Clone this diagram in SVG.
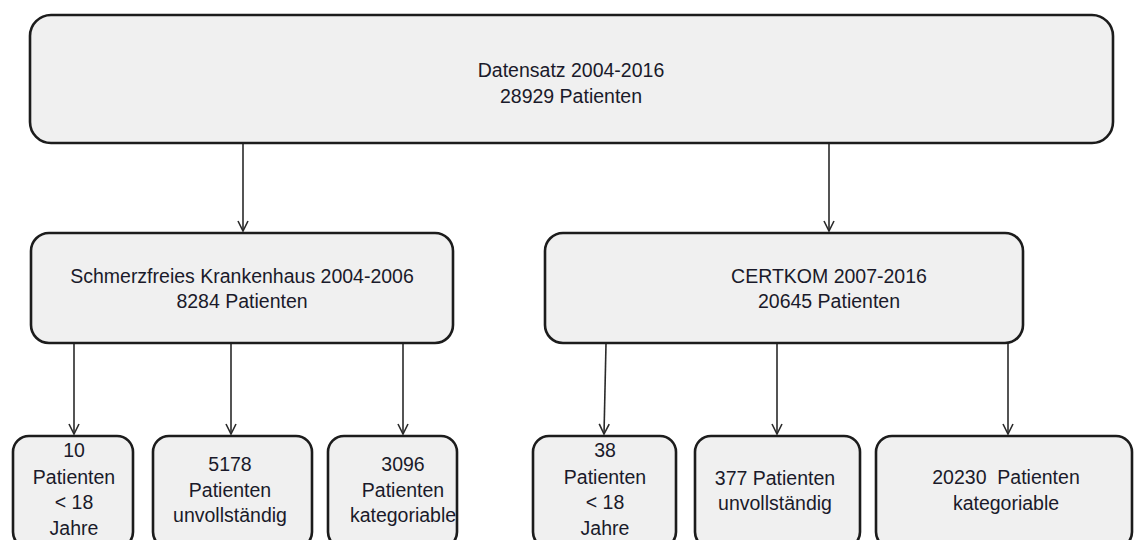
<svg xmlns="http://www.w3.org/2000/svg" width="1134" height="540" viewBox="0 0 1134 540">
<defs>
<style>
.box{fill:#f0f0f0;stroke:#1c1c1c;stroke-width:2.6}
.t{font-family:"Liberation Sans",Arial,sans-serif;font-size:19.5px;fill:#1a1a2a;text-anchor:middle}
.c{stroke:#2a2a2a;stroke-width:1.6;fill:none}
</style>
<marker id="ah" viewBox="0 0 12 12" refX="11" refY="6" markerWidth="12" markerHeight="12" markerUnits="userSpaceOnUse" orient="auto">
<path d="M1,1 L11,6 L1,11" fill="none" stroke="#2a2a2a" stroke-width="1.6"/>
</marker>
</defs>
<rect width="1134" height="540" fill="#ffffff"/>
<g id="connectors">
<line class="c" x1="243" y1="144" x2="243" y2="231" marker-end="url(#ah)"/>
<line class="c" x1="829" y1="144" x2="829" y2="231" marker-end="url(#ah)"/>
<line class="c" x1="74" y1="344" x2="74" y2="434" marker-end="url(#ah)"/>
<line class="c" x1="231" y1="344" x2="231" y2="434" marker-end="url(#ah)"/>
<line class="c" x1="403" y1="344" x2="403" y2="434" marker-end="url(#ah)"/>
<line class="c" x1="606" y1="344" x2="604" y2="434" marker-end="url(#ah)"/>
<line class="c" x1="777" y1="344" x2="777" y2="434" marker-end="url(#ah)"/>
<line class="c" x1="1008" y1="344" x2="1008" y2="434" marker-end="url(#ah)"/>
</g>
<g id="n-datensatz">
<rect class="box" x="30" y="15" width="1083" height="128" rx="21"/>
<text class="t" x="571" y="77">Datensatz 2004-2016</text>
<text class="t" x="571" y="103">28929 Patienten</text>
</g>
<g id="n-schmerzfrei">
<rect class="box" x="31" y="233" width="422" height="110" rx="18"/>
<text class="t" x="242" y="283">Schmerzfreies Krankenhaus  2004-2006</text>
<text class="t" x="242" y="308">8284 Patienten</text>
</g>
<g id="n-certkom">
<rect class="box" x="545" y="233" width="478" height="110" rx="18"/>
<text class="t" x="829" y="283">CERTKOM 2007-2016</text>
<text class="t" x="829" y="308">20645 Patienten</text>
</g>
<g id="n-sk-u18">
<rect class="box" x="13" y="436" width="120" height="112" rx="16"/>
<text class="t" x="74" y="457">10</text>
<text class="t" x="74" y="484">Patienten</text>
<text class="t" x="74" y="509">&lt; 18</text>
<text class="t" x="74" y="535">Jahre</text>
</g>
<g id="n-sk-unv">
<rect class="box" x="153" y="436" width="159" height="112" rx="16"/>
<text class="t" x="230" y="471">5178</text>
<text class="t" x="230" y="497">Patienten</text>
<text class="t" x="230" y="522">unvollständig</text>
</g>
<g id="n-sk-kat">
<rect class="box" x="328" y="436" width="129" height="112" rx="16"/>
<text class="t" x="403" y="471">3096</text>
<text class="t" x="403" y="497">Patienten</text>
<text class="t" x="403" y="522">kategoriable</text>
</g>
<g id="n-ck-u18">
<rect class="box" x="533" y="436" width="143" height="112" rx="16"/>
<text class="t" x="605" y="457">38</text>
<text class="t" x="605" y="484">Patienten</text>
<text class="t" x="605" y="509">&lt; 18</text>
<text class="t" x="605" y="535">Jahre</text>
</g>
<g id="n-ck-unv">
<rect class="box" x="695" y="436" width="165" height="112" rx="16"/>
<text class="t" x="775" y="485">377 Patienten</text>
<text class="t" x="775" y="510">unvollständig</text>
</g>
<g id="n-ck-kat">
<rect class="box" x="876" y="436" width="256" height="112" rx="16"/>
<text class="t" x="1006" y="484" xml:space="preserve">20230  Patienten</text>
<text class="t" x="1006" y="510">kategoriable</text>
</g>
</svg>
